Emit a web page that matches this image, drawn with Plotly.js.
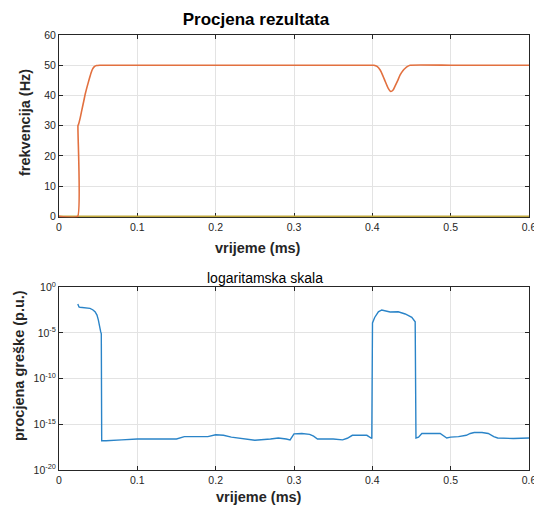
<!DOCTYPE html>
<html>
<head>
<meta charset="utf-8">
<script src="https://cdn.plot.ly/plotly-3.0.1.min.js"></script>
<style>html,body{margin:0;padding:0;background:#fff;}#chart{width:534px;height:508px;}</style>
</head>
<body>
<div id="chart"></div>
<script>
// ---- Data ----
var freqTime = [0, 0.0238, 0.0242, 0.025, 0.027, 0.029, 0.0315, 0.0335, 0.036, 0.0387, 0.041, 0.043, 0.0455, 0.048, 0.052, 0.056, 0.1, 0.2, 0.3, 0.4, 0.402, 0.406, 0.41, 0.4135, 0.4165, 0.42, 0.4236, 0.4265, 0.429, 0.4325, 0.4355, 0.439, 0.442, 0.445, 0.4483, 0.5, 0.6];
var freqValue = [0, 0, 30, 30.5, 32.5, 35, 38, 40.5, 43, 45.5, 47.5, 48.8, 49.6, 49.9, 50, 50, 50, 50, 50, 50, 50, 49.6, 48.4, 46.5, 44.6, 42.5, 41.3, 41.8, 43.1, 45, 46.8, 48.2, 49, 49.6, 50, 50, 50];

var zeroTime = [0, 0.6];
var zeroValue = [0, 0];

var errTime = [0.024, 0.0255, 0.0268, 0.03, 0.035, 0.0395, 0.043, 0.046, 0.0485, 0.0502, 0.0532, 0.054, 0.0545, 0.06, 0.08, 0.1, 0.12, 0.15, 0.16, 0.18, 0.19, 0.2, 0.21, 0.22, 0.25, 0.27, 0.28, 0.29, 0.295, 0.3, 0.31, 0.32, 0.325, 0.33, 0.35, 0.362, 0.368, 0.3745, 0.393, 0.3993, 0.4002, 0.403, 0.4077, 0.412, 0.4227, 0.433, 0.442, 0.4504, 0.4547, 0.4557, 0.459, 0.4632, 0.475, 0.4866, 0.495, 0.5, 0.51, 0.52, 0.525, 0.53, 0.54, 0.548, 0.555, 0.56, 0.58, 0.6];
var errValue = [1.5e-2, 7.0e-3, 6.5e-3, 6.0e-3, 5.6e-3, 5.0e-3, 3.5e-3, 2.1e-3, 9.0e-4, 2.7e-4, 1.4e-5, 8e-6, 1.6e-17, 1.6e-17, 2.0e-17, 2.5e-17, 2.5e-17, 2.5e-17, 4.5e-17, 5.0e-17, 4.5e-17, 7.1e-17, 6.3e-17, 4.0e-17, 1.8e-17, 2.5e-17, 3.2e-17, 2.5e-17, 2.0e-17, 8.9e-17, 1.0e-16, 7.9e-17, 5.0e-17, 2.5e-17, 2.5e-17, 2.0e-17, 3.0e-17, 6.3e-17, 6.3e-17, 2.8e-17, 1.26e-4, 5.0e-4, 2.1e-3, 3.3e-3, 2.0e-3, 2.1e-3, 1.2e-3, 5.2e-4, 1.7e-4, 3.2e-17, 4.0e-17, 1.0e-16, 1.0e-16, 1.0e-16, 3.2e-17, 4.0e-17, 4.5e-17, 6.3e-17, 1.0e-16, 1.26e-16, 1.26e-16, 1.0e-16, 4.5e-17, 3.2e-17, 2.8e-17, 3.2e-17];

var xTickVals = [0, 0.1, 0.2, 0.3, 0.4, 0.5, 0.6];
var xTickText = ['0', '0.1', '0.2', '0.3', '0.4', '0.5', '0.6'];
var yTopTickVals = [0, 10, 20, 30, 40, 50, 60];
var yLogTickVals = [1e-20, 1e-15, 1e-10, 1e-5, 1];
var yLogTickText = ['10<sup>-20</sup>', '10<sup>-15</sup>', '10<sup>-10</sup>', '10<sup>-5</sup>', '10<sup>0</sup>'];

var titleText = 'Procjena rezultata';
var subTitleText = 'logaritamska skala';
var xTitleText = 'vrijeme (ms)';
var yTopTitleText = 'frekvencija (Hz)';
var yBottomTitleText = 'procjena greške (p.u.)';

// ---- Styling ----
var fontFam = '"Liberation Sans", Arial, Helvetica, sans-serif';
var axisColor = '#262626';
var gridColor = '#e3e3e3';

function axisBase() {
  return {
    showline: true, linecolor: axisColor, linewidth: 1, mirror: 'ticks',
    ticks: 'inside', ticklen: 4, tickcolor: axisColor, tickwidth: 1,
    showgrid: true, gridcolor: gridColor, gridwidth: 1, zeroline: false,
    ticklabeloverflow: 'allow',
    tickfont: {family: fontFam, size: 10.5, color: axisColor}
  };
}

var xaxis = Object.assign(axisBase(), {domain: [0, 1], range: [0, 0.6], tickvals: xTickVals, ticktext: xTickText, anchor: 'y', layer: 'below traces'});
var yaxis = Object.assign(axisBase(), {domain: [0.581, 1], range: [-0.3, 60], tickvals: yTopTickVals, anchor: 'x', layer: 'below traces'});
var xaxis2 = Object.assign(axisBase(), {domain: [0, 1], range: [0, 0.6], tickvals: xTickVals, ticktext: xTickText, anchor: 'y2'});
var yaxis2 = Object.assign(axisBase(), {domain: [0, 0.42], type: 'log', range: [-20, 0], tickvals: yLogTickVals, ticktext: yLogTickText, anchor: 'x2'});

var traces = [
  {x: zeroTime, y: zeroValue, xaxis: 'x', yaxis: 'y', mode: 'lines', line: {color: '#C2AA3E', width: 1.8}, hoverinfo: 'skip', showlegend: false},
  {x: freqTime, y: freqValue, xaxis: 'x', yaxis: 'y', mode: 'lines', line: {color: '#E2703F', width: 1.6, shape: 'spline', smoothing: 0.4}, showlegend: false},
  {x: errTime, y: errValue, xaxis: 'x2', yaxis: 'y2', mode: 'lines', line: {color: '#2A84C8', width: 1.4}, showlegend: false}
];

var W = 534, H = 508, L = 59, R = 5, T = 35, B = 38;
function px(x) { return (x - L) / (W - L - R); }
function py(y) { return (H - B - y) / (H - T - B); }

var titleFont = {family: fontFam, size: 14.5, color: axisColor};
var annotations = [
  {text: '<b>' + xTitleText + '</b>', x: px(258), y: py(248), xref: 'paper', yref: 'paper', showarrow: false, xanchor: 'center', yanchor: 'middle', font: titleFont},
  {text: '<b>' + xTitleText + '</b>', x: px(259), y: py(497), xref: 'paper', yref: 'paper', showarrow: false, xanchor: 'center', yanchor: 'middle', font: titleFont},
  {text: '<b>' + yTopTitleText + '</b>', x: px(25), y: py(123), xref: 'paper', yref: 'paper', showarrow: false, xanchor: 'center', yanchor: 'middle', textangle: -90, font: titleFont},
  {text: '<b>' + yBottomTitleText + '</b>', x: px(19), y: py(366), xref: 'paper', yref: 'paper', showarrow: false, xanchor: 'center', yanchor: 'middle', textangle: -90, font: titleFont},
  {text: subTitleText, x: px(265), y: py(278), xref: 'paper', yref: 'paper', showarrow: false, xanchor: 'center', yanchor: 'middle', font: {family: fontFam, size: 14, color: '#000'}}
];

var layout = {
  width: W, height: H,
  margin: {l: L, r: R, t: T, b: B},
  paper_bgcolor: '#fff', plot_bgcolor: '#fff',
  title: {text: '<b>' + titleText + '</b>', x: 256 / W, xref: 'container', xanchor: 'center', y: 1 - 19 / H, yref: 'container', yanchor: 'middle', font: {family: fontFam, size: 17, color: '#000'}},
  xaxis: xaxis, yaxis: yaxis, xaxis2: xaxis2, yaxis2: yaxis2,
  annotations: annotations,
  showlegend: false
};

Plotly.newPlot('chart', traces, layout, {displayModeBar: false, staticPlot: true});
</script>
</body>
</html>
